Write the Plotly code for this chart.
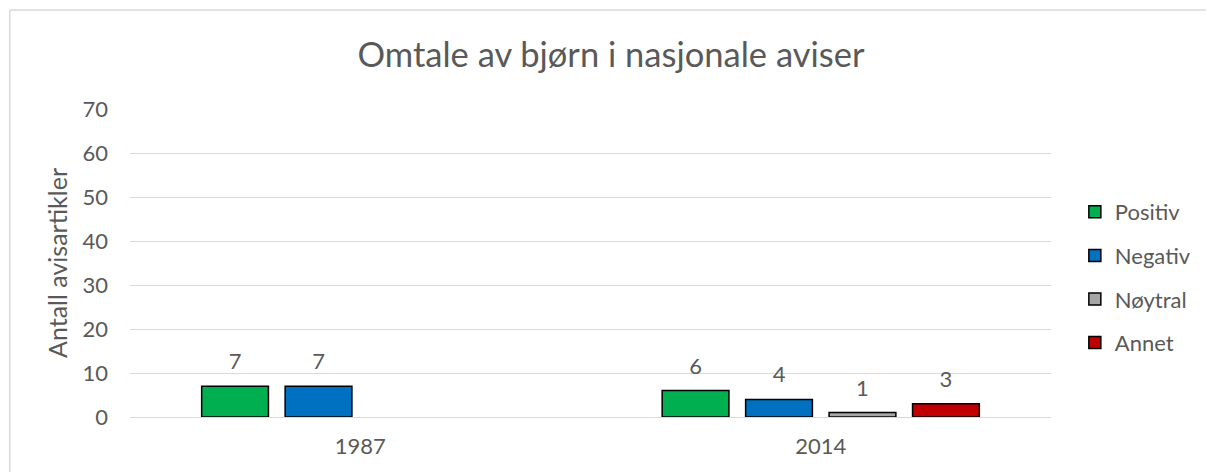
import plotly.graph_objects as go

years = ["1987", "2014"]
series_names = ["Positiv", "Negativ", "Nøytral", "Annet"]
positiv = [7, 6]
negativ = [7, 4]
noytral = [None, 1]
annet = [None, 3]
y_ticks = [0, 10, 20, 30, 40, 50, 60, 70]

values = [positiv, negativ, noytral, annet]
colors = ["#00B050", "#0070C0", "#A5A5A5", "#C00000"]

FONT = "Lato"
TXT = "#595959"
GRID = "#D9D9D9"

W, H = 1208, 472
ML, MR, MT, MB = 130, 151, 109, 55
PW = W - ML - MR
PH = H - MT - MB

fig = go.Figure()
for name, vals, col in zip(series_names, values, colors):
    fig.add_trace(go.Bar(
        x=years, y=vals, name=name,
        marker=dict(color=col, line=dict(color="#000000", width=1.5)),
        legendgroup=name, hoverinfo="skip",
    ))
for name, vals in zip(series_names, values):
    fig.add_trace(go.Scatter(
        x=years, y=vals, mode="markers+text",
        text=[("" if v is None else str(v)) for v in vals],
        textposition="top center",
        textfont=dict(family=FONT, size=22, color=TXT),
        marker=dict(size=16.8, color="rgba(0,0,0,0)"),
        showlegend=False, hoverinfo="skip", cliponaxis=False,
    ))

# outer chart border (top and left edges are the ones inside the frame)
def px_to_paper_x(px):
    return (px - ML) / PW

def px_to_paper_y(py):
    return (H - MB - py) / PH

border = dict(color=GRID, width=1.5)
fig.add_shape(type="line", xref="paper", yref="paper",
              x0=px_to_paper_x(9), x1=px_to_paper_x(W + 5),
              y0=px_to_paper_y(10), y1=px_to_paper_y(10),
              line=border, layer="below")
fig.add_shape(type="line", xref="paper", yref="paper",
              x0=px_to_paper_x(9), x1=px_to_paper_x(9),
              y0=px_to_paper_y(10), y1=px_to_paper_y(H + 5),
              line=border, layer="below")

fig.update_layout(
    width=W, height=H,
    margin=dict(l=ML, r=MR, t=MT, b=MB),
    paper_bgcolor="white", plot_bgcolor="white",
    barmode="group", bargap=0.275, bargroupgap=0.2,
    scattermode="group", scattergap=0.275,
    font=dict(family=FONT, size=22, color=TXT),
    title=dict(text="Omtale av bjørn i nasjonale aviser",
               x=(611) / W, xanchor="center", xref="container",
               y=1 - 55 / H, yanchor="middle", yref="container",
               font=dict(family=FONT, size=34.5, color=TXT)),
    legend=dict(x=px_to_paper_x(1081), xanchor="left",
                y=px_to_paper_y(191), yanchor="top",
                traceorder="grouped", tracegroupgap=12,
                font=dict(family=FONT, size=22, color=TXT),
                bgcolor="rgba(0,0,0,0)"),
    showlegend=True,
)
fig.update_xaxes(type="category", showgrid=False, showline=True,
                 linecolor=GRID, linewidth=1, layer="above traces",
                 ticks="", tickfont=dict(family=FONT, size=22, color=TXT),
                 ticklabelstandoff=10)
fig.update_yaxes(range=[0, 70], tickvals=y_ticks, showgrid=True,
                 gridcolor=GRID, gridwidth=1, zeroline=False,
                 showline=False, ticks="",
                 tickfont=dict(family=FONT, size=22, color=TXT),
                 ticklabelstandoff=21,
                 title=dict(text="Antall avisartikler", standoff=7,
                            font=dict(family=FONT, size=25, color=TXT)))

fig.write_html(
    "out.html",
    config={"displayModeBar": False},
    post_script=(
        "document.documentElement.style.overflow='hidden';"
        "document.documentElement.style.margin='0';"
        "document.body.style.margin='0';"
        "document.body.style.padding='0';"
        "document.body.style.overflow='hidden';"
    ),
)
